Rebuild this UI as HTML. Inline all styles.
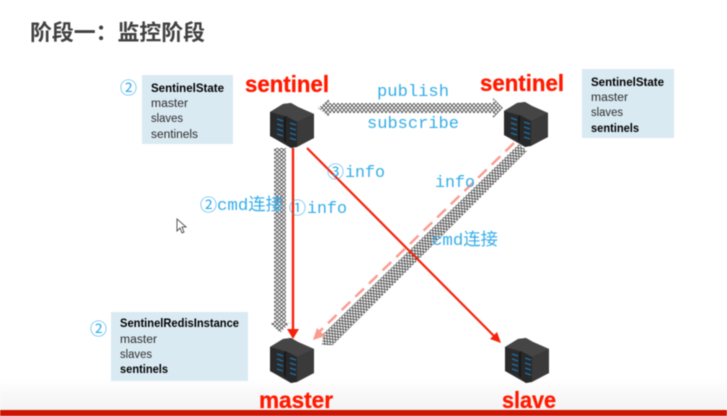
<!DOCTYPE html>
<html><head><meta charset="utf-8">
<style>
html,body{margin:0;padding:0;background:#fff;width:727px;height:416px;overflow:hidden}
svg{display:block;filter:blur(0.4px)}
.lab{font-family:"Liberation Mono","Noto Sans CJK SC",monospace;font-size:17px;fill:#35ade9}
.box{font-family:"Liberation Sans",sans-serif;font-size:11.5px;fill:#2b2b2b}
.b{font-weight:bold;fill:#000}
.nm{font-family:"Liberation Sans",sans-serif;font-weight:bold;fill:#ff1a00;stroke:#ff1a00;stroke-width:.3}
.circ{font-family:"Noto Sans CJK SC",sans-serif;fill:#2fa9ea}
</style></head><body>
<svg xmlns="http://www.w3.org/2000/svg" width="727" height="416" viewBox="0 0 727 416">
<defs>
<linearGradient id="bg" x1="0" y1="0" x2="0" y2="1"><stop offset="0" stop-color="#fff"/><stop offset="1" stop-color="#f3f3f3"/></linearGradient>
<pattern id="zh" width="4" height="4.4" patternUnits="userSpaceOnUse">
<rect width="4" height="4.4" fill="#fff"/>
<path d="M0 0 L2 2.2 L0 4.4 M4 0 L2 2.2 L4 4.4" fill="none" stroke="#333" stroke-width="0.7"/>
</pattern>
<pattern id="zv" width="4.4" height="4" patternUnits="userSpaceOnUse">
<rect width="4.4" height="4" fill="#fff"/>
<path d="M0 0 L2.2 2 L4.4 0 M0 4 L2.2 2 L4.4 4" fill="none" stroke="#333" stroke-width="0.7"/>
</pattern>
<pattern id="zd" width="3.6" height="4.4" patternUnits="userSpaceOnUse" patternTransform="rotate(-44)">
<rect width="3.6" height="4.4" fill="#fff"/>
<path d="M0 0 L1.8 2.2 L0 4.4 M3.6 0 L1.8 2.2 L3.6 4.4" fill="none" stroke="#333" stroke-width="0.7"/>
</pattern>
<g id="srv">
<path d="M0 9 L13 1 L21 0 L28 4 L44 11 L44 35 L21 45 L0 33Z" fill="#2f2f2f"/>
<path d="M0 9 L13 1 L21 0 L28 4 L44 11 L27 19 L15 13Z" fill="#454545"/>
<path d="M27 19 L44 11 L44 35 L27 44Z" fill="#3a3a3a"/>
<path d="M0 9 L14 14 L14 38 L0 33Z" fill="#2a2a2a"/>
<path d="M14 14 L16 13 L16 40 L14 38Z" fill="#1a1a1a"/>
<path d="M16 13 L27 19 L27 44 L21 45 L16 40Z" fill="#282828"/>
<g stroke="#1f70ad" stroke-width="1.3">
<path d="M7 16 L13 18 M7 21 L13 23 M7 26 L13 28 M7 31 L13 33"/>
<path d="M20 20 L26 22 M20 25 L26 27 M20 30 L26 32 M20 35 L26 37"/>
</g>
</g>
</defs>

<rect width="727" height="416" fill="#fff"/>
<rect x="0" y="378" width="727" height="32" fill="url(#bg)"/>
<rect x="0" y="410" width="727" height="6" fill="#cc1400"/>

<text x="30" y="40" font-family="'Noto Sans CJK SC',sans-serif" font-weight="bold" font-size="21.8" fill="#404040" textLength="175" lengthAdjust="spacingAndGlyphs">阶段一&#xFF1A;监控阶段</text>

<!-- info boxes -->
<rect x="142" y="75" width="91" height="69" fill="#daeaf3"/>
<text class="box b" x="151" y="92" textLength="73" lengthAdjust="spacingAndGlyphs">SentinelState</text>
<text class="box" x="151" y="107" textLength="37" lengthAdjust="spacingAndGlyphs">master</text>
<text class="box" x="151" y="122" textLength="32" lengthAdjust="spacingAndGlyphs">slaves</text>
<text class="box" x="151" y="138" textLength="47" lengthAdjust="spacingAndGlyphs">sentinels</text>

<rect x="582" y="69" width="92" height="69" fill="#daeaf3"/>
<text class="box b" x="591" y="86" textLength="73" lengthAdjust="spacingAndGlyphs">SentinelState</text>
<text class="box" x="591" y="101" textLength="37" lengthAdjust="spacingAndGlyphs">master</text>
<text class="box" x="591" y="116" textLength="32" lengthAdjust="spacingAndGlyphs">slaves</text>
<text class="box b" x="591" y="132" textLength="48" lengthAdjust="spacingAndGlyphs">sentinels</text>

<rect x="111" y="312" width="137" height="69" fill="#daeaf3"/>
<text class="box b" x="120" y="327" textLength="119" lengthAdjust="spacingAndGlyphs">SentinelRedisInstance</text>
<text class="box" x="120" y="343" textLength="37" lengthAdjust="spacingAndGlyphs">master</text>
<text class="box" x="120" y="358" textLength="32" lengthAdjust="spacingAndGlyphs">slaves</text>
<text class="box b" x="120" y="373" textLength="48" lengthAdjust="spacingAndGlyphs">sentinels</text>

<text class="circ" x="120" y="94" font-size="17" textLength="17" lengthAdjust="spacingAndGlyphs">②</text>
<text class="circ" x="90" y="335" font-size="17" textLength="17" lengthAdjust="spacingAndGlyphs">②</text>

<!-- hatched arrows -->
<path d="M318 108 L329 99 L329 103 L493 103 L493 98 L503 108 L493 118 L493 113 L329 113 L329 117Z" fill="url(#zh)"/>
<path d="M274 148 L286 148 L286 323 L290 323 L280 333 L270 323 L274 323Z" fill="url(#zv)"/>
<path d="M519 144 L527 151 L333 345 L322 345 L323 334 Z" fill="url(#zd)"/>

<!-- red connectors -->
<line x1="293" y1="148" x2="293" y2="330" stroke="#f5220a" stroke-width="2.4"/>
<path d="M287 329 L299 329 L293 339Z" fill="#f5220a"/>
<line x1="307" y1="148" x2="496" y2="338" stroke="#f5220a" stroke-width="2.2"/>
<path d="M501 343 L490 339 L497 332Z" fill="#f5220a"/>
<line x1="514" y1="143" x2="318" y2="333" stroke="#fb9a8e" stroke-width="2.4" stroke-dasharray="12 7"/>
<path d="M313 340 L317 328 L325 336Z" fill="#fb9a8e"/>

<!-- servers -->
<use href="#srv" x="270" y="103"/>
<use href="#srv" x="504" y="102"/>
<use href="#srv" x="270" y="338"/>
<use href="#srv" x="505" y="338"/>

<!-- names -->
<text class="nm" x="245" y="92" font-size="23" textLength="84" lengthAdjust="spacingAndGlyphs">sentinel</text>
<text class="nm" x="480" y="91" font-size="23" textLength="84" lengthAdjust="spacingAndGlyphs">sentinel</text>
<text class="nm" x="259" y="408" font-size="23" textLength="74" lengthAdjust="spacingAndGlyphs">master</text>
<text class="nm" x="502" y="408" font-size="23" textLength="54" lengthAdjust="spacingAndGlyphs">slave</text>

<!-- connector labels -->
<text class="lab" x="377" y="96" textLength="72" lengthAdjust="spacingAndGlyphs">publish</text>
<text class="lab" x="367" y="128" textLength="92" lengthAdjust="spacingAndGlyphs">subscribe</text>
<text class="circ" x="200" y="211" font-size="17" textLength="17" lengthAdjust="spacingAndGlyphs">②</text>
<text class="lab" x="217" y="210" textLength="66" lengthAdjust="spacingAndGlyphs">cmd连接</text>
<text class="circ" x="289" y="214" font-size="17" textLength="17" lengthAdjust="spacingAndGlyphs">①</text>
<text class="lab" x="307" y="213" textLength="40" lengthAdjust="spacingAndGlyphs">info</text>
<text class="circ" x="327" y="178" font-size="17" textLength="17" lengthAdjust="spacingAndGlyphs">③</text>
<text class="lab" x="345" y="177" textLength="40" lengthAdjust="spacingAndGlyphs">info</text>
<text class="lab" x="435" y="187" textLength="40" lengthAdjust="spacingAndGlyphs">info</text>
<text class="lab" x="432" y="245" textLength="66" lengthAdjust="spacingAndGlyphs">cmd连接</text>

<!-- cursor -->
<path d="M177 219 L177 231 L180 228 L182 233 L184 232 L182 227 L186 227Z" fill="#fff" stroke="#333" stroke-width="0.8"/>
</svg>
</body></html>
